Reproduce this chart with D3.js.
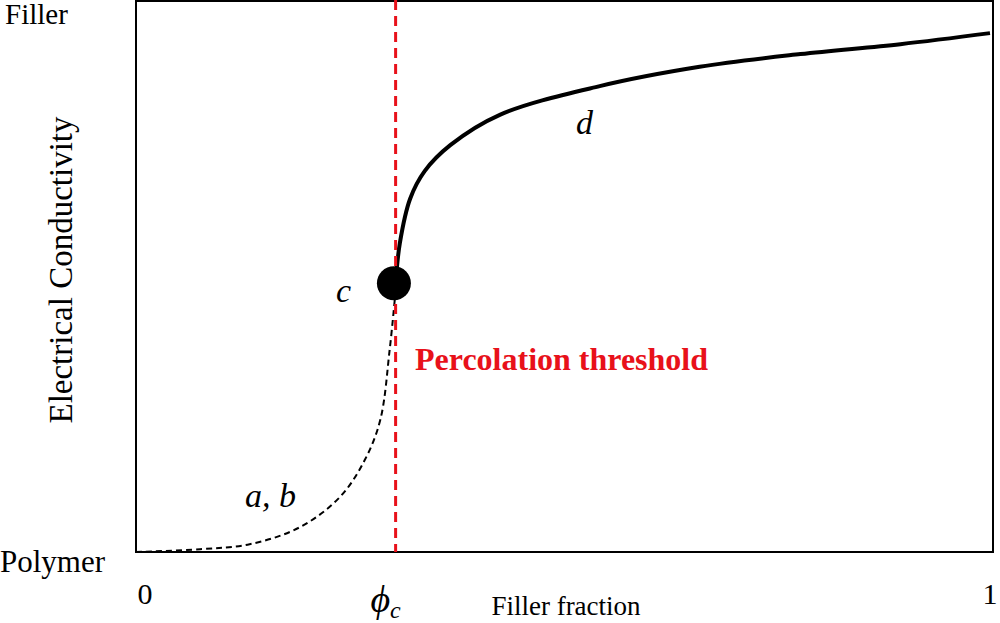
<!DOCTYPE html>
<html><head><meta charset="utf-8">
<script src="https://d3js.org/d3.v7.min.js"></script>
<style>body{margin:0;background:#fff}</style></head>
<body><svg id="c" width="1000" height="623"></svg>
<script>
const dashedX=[0,0.075,0.133,0.192,0.239,0.268,0.286,0.297,0.303];
const dashedY=[0,0.005,0.014,0.045,0.1,0.167,0.239,0.366,0.457];
const solidX=[0.304,0.309,0.321,0.338,0.368,0.426,0.543,0.660,0.778,0.895,1];
const solidY=[0.487,0.560,0.640,0.690,0.737,0.792,0.844,0.879,0.902,0.920,0.940];
const phiC=0.304;
const dot=[0.302,0.487];
const svg=d3.select("#c");
const x=d3.scaleLinear().domain([0,1]).range([136,990]);
const y=d3.scaleLinear().domain([0,1]).range([552,0]);
const F="Liberation Serif, Times New Roman, serif";
svg.append("rect").attr("x",136).attr("y",1).attr("width",857).attr("height",551).attr("fill","none").attr("stroke","#000").attr("stroke-width",2);
const line=d3.line().x(d=>x(d[0])).y(d=>y(d[1])).curve(d3.curveCatmullRom.alpha(0.5));
svg.append("path").attr("d",line(dashedX.map((v,i)=>[v,dashedY[i]]))).attr("fill","none").attr("stroke","#000").attr("stroke-width",2).attr("stroke-dasharray","6,4");
svg.append("path").attr("d",line(solidX.map((v,i)=>[v,solidY[i]]))).attr("fill","none").attr("stroke","#000").attr("stroke-width",4);
svg.append("line").attr("x1",x(phiC)).attr("x2",x(phiC)).attr("y1",y(1)).attr("y2",y(0)).attr("stroke","#e8111a").attr("stroke-width",3).attr("stroke-dasharray","10,6");
svg.append("circle").attr("cx",x(dot[0])).attr("cy",y(dot[1])).attr("r",17).attr("fill","#000");
function t(s,px,py,o={}){return svg.append("text").attr("x",px).attr("y",py).attr("font-family",F).attr("font-size",o.size||26).attr("font-style",o.it?"italic":"normal").attr("font-weight",o.b?"bold":"normal").attr("fill",o.fill||"#000").attr("text-anchor",o.anchor||"start").text(s);}
t("Filler",5,24,{size:29});
t("Polymer",0,572,{size:31});
t("0",145,604,{anchor:"middle",size:30});
t("1",990,604,{anchor:"middle",size:30});
const ph=t("",x(phiC)-10,612,{it:true,size:38,anchor:"middle"});
ph.append("tspan").text("ϕ");
ph.append("tspan").attr("font-size",24).attr("dy",6).text("c");
t("Filler fraction",566,615,{anchor:"middle",size:27});
svg.append("text").attr("transform","translate(72,270) rotate(-90)").attr("text-anchor","middle").attr("font-family",F).attr("font-size",33).text("Electrical Conductivity");
t("Percolation threshold",415,370,{b:true,fill:"#e8111a",size:32});
t("c",336,302,{it:true,size:34});
t("a, b",245,507,{it:true,size:34});
t("d",576,134,{it:true,size:34});
</script></body></html>
